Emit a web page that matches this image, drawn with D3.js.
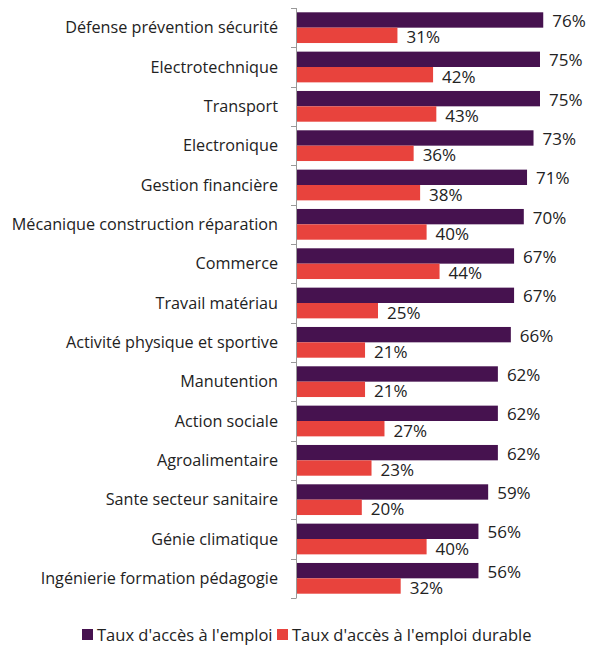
<!DOCTYPE html>
<html>
<head>
<meta charset="utf-8">
<script src="https://cdn.jsdelivr.net/npm/d3@7"></script>
<style>
  body { margin: 0; background: #fff; overflow: hidden; }
  svg { font-family: "Open Sans", sans-serif; display: block; }
</style>
</head>
<body>
<svg id="chart" width="590" height="645"></svg>
<script>
var categories = [
    "Défense prévention sécurité",
    "Electrotechnique",
    "Transport",
    "Electronique",
    "Gestion financière",
    "Mécanique construction réparation",
    "Commerce",
    "Travail matériau",
    "Activité physique et sportive",
    "Manutention",
    "Action sociale",
    "Agroalimentaire",
    "Sante secteur sanitaire",
    "Génie climatique",
    "Ingénierie formation pédagogie"
];
var tauxAcces = [76, 75, 75, 73, 71, 70, 67, 67, 66, 62, 62, 62, 59, 56, 56];
var tauxDurable = [31, 42, 43, 36, 38, 40, 44, 25, 21, 21, 27, 23, 20, 40, 32];
var seriesNames = ["Taux d'accès à l'emploi", "Taux d'accès à l'emploi durable"];
var colors = ["#46124f", "#e8433d"];

var svg = d3.select("#chart");

var y = d3.scaleBand()
    .domain(categories)
    .range([8, 598]);

var ySub = d3.scaleBand()
    .domain([0, 1])
    .range([0, y.bandwidth()])
    .paddingOuter(0.28);

var x = d3.scaleLinear()
    .domain([0, 100])
    .range([297, 621]);

var rows = categories.map(function (c, i) {
    return {cat: c, values: [tauxAcces[i], tauxDurable[i]]};
});

var group = svg.append("g")
    .selectAll("g")
    .data(rows)
    .enter().append("g")
    .attr("transform", function (d) {
        return "translate(0," + y(d.cat) + ")";
    });

group.selectAll("rect")
    .data(function (d) { return d.values; })
    .enter().append("rect")
    .attr("x", x(0))
    .attr("y", function (d, i) { return ySub(i); })
    .attr("width", function (d) { return x(d) - x(0); })
    .attr("height", ySub.bandwidth())
    .attr("fill", function (d, i) { return colors[i]; });

group.selectAll("text.val")
    .data(function (d) { return d.values; })
    .enter().append("text")
    .attr("class", "val")
    .attr("x", function (d) { return x(d) + 9; })
    .attr("y", function (d, i) { return ySub(i) + ySub.bandwidth() / 2 + (i == 0 ? 1 : 2); })
    .attr("dy", "0.35em")
    .attr("font-size", 17)
    .attr("fill", "#222")
    .text(function (d) { return d + "%"; });

// category labels
svg.append("g")
    .selectAll("text")
    .data(categories)
    .enter().append("text")
    .attr("x", 278)
    .attr("y", function (d) { return y(d) + y.bandwidth() / 2; })
    .attr("dy", "0.35em")
    .attr("text-anchor", "end")
    .attr("font-size", 16.2)
    .attr("fill", "#222")
    .text(function (d) { return d; });

// axis line with ticks between categories
var axis = svg.append("g").attr("stroke", "#999").attr("stroke-width", 1);
axis.append("line")
    .attr("x1", 296.5).attr("x2", 296.5)
    .attr("y1", y.range()[0]).attr("y2", y.range()[1]);
var bounds = categories.map(function (c) { return y(c); }).concat([y.range()[1]]);
axis.selectAll("line.tick")
    .data(bounds)
    .enter().append("line")
    .attr("class", "tick")
    .attr("x1", 291).attr("x2", 296.5)
    .attr("y1", function (d) { return Math.round(d) + 0.5; })
    .attr("y2", function (d) { return Math.round(d) + 0.5; });

// legend
var legendX = [82, 277];
var legend = svg.append("g")
    .selectAll("g")
    .data(seriesNames)
    .enter().append("g")
    .attr("transform", function (d, i) { return "translate(" + legendX[i] + ",629)"; });
legend.append("rect")
    .attr("width", 11).attr("height", 11)
    .attr("fill", function (d, i) { return colors[i]; });
legend.append("text")
    .attr("x", 15)
    .attr("y", 11.5)
    .attr("font-size", 16.5)
    .attr("fill", "#222")
    .text(function (d) { return d; });
</script>
</body>
</html>
